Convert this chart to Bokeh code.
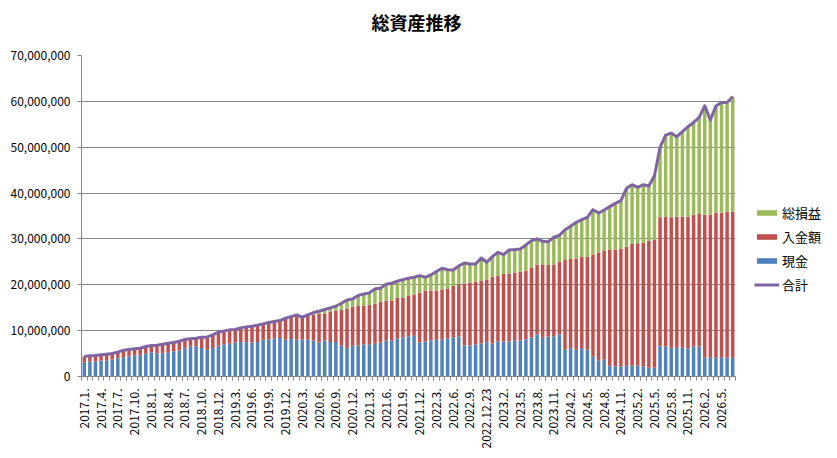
import math
from bokeh.plotting import figure
from bokeh.models import (ColumnDataSource, FixedTicker, NumeralTickFormatter,
                          Legend, LegendItem, Range1d, Label)
from bokeh.embed import file_html
from bokeh.resources import INLINE

# ---- data (values in 万円 = 10,000 yen) ----
chart_title = "総資産推移"

tick_labels = ["2017.1.", "2017.4.", "2017.7.", "2017.10.", "2018.1.", "2018.4.",
               "2018.7.", "2018.10.", "2018.12.", "2019.3.", "2019.6.", "2019.9.",
               "2019.12.", "2020.3.", "2020.6.", "2020.9.", "2020.12.", "2021.3.",
               "2021.6.", "2021.9.", "2021.12.", "2022.3.", "2022.6.", "2022.9.",
               "2022.12.23", "2023.2.", "2023.5.", "2023.8.", "2023.11.", "2024.2.",
               "2024.5.", "2024.8.", "2024.11.", "2025.2.", "2025.5.", "2025.8.",
               "2025.11.", "2026.2.", "2026.5."]

cash = [312, 327, 327, 349, 349, 370, 400, 420, 443, 458,
        458, 494, 530, 508, 508, 530, 552, 566, 617, 660,
        660, 624, 581, 624, 675, 697, 712, 741, 755, 748,
        741, 755, 799, 806, 828, 842, 806, 820, 799, 806,
        799, 784, 741, 784, 755, 755, 675, 625, 668, 675,
        697, 704, 712, 741, 784, 784, 828, 850, 879, 886,
        748, 763, 784, 799, 806, 828, 850, 871, 675, 675,
        697, 719, 748, 719, 763, 763, 763, 784, 784, 806,
        850, 915, 850, 871, 871, 915, 585, 617, 581, 617,
        581, 436, 349, 363, 232, 218, 218, 232, 232, 232,
        218, 189, 189, 654, 654, 625, 625, 625, 610, 654,
        654, 407, 407, 407, 407, 407, 407]

deposit = [124, 123, 131, 123, 138, 131, 130, 154, 145, 145,
           159, 160, 145, 175, 196, 196, 189, 204, 189, 161,
           175, 233, 283, 284, 291, 298, 305, 283, 305, 334,
           356, 363, 348, 370, 370, 378, 464, 487, 544, 486,
           521, 566, 629, 589, 661, 683, 785, 856, 857, 872,
           850, 865, 878, 893, 872, 872, 893, 871, 886, 900,
           1082, 1111, 1090, 1075, 1089, 1089, 1125, 1133, 1351, 1373,
           1373, 1372, 1365, 1460, 1437, 1474, 1481, 1482, 1504, 1503,
           1525, 1525, 1580, 1569, 1569, 1590, 1964, 1954, 1990, 1990,
           2033, 2222, 2353, 2382, 2535, 2549, 2571, 2600, 2658, 2673,
           2701, 2774, 2788, 2817, 2832, 2846, 2861, 2861, 2876, 2875,
           2890, 3122, 3122, 3166, 3166, 3188, 3188]

profit = [0, 0, 0, 0, 0, 0, 0, 0, 0, 0,
          0, 0, 0, 0, 0, 0, 0, 0, 0, 0,
          0, 0, 0, 0, 0, 0, 0, 0, 0, 0,
          0, 0, 0, 0, 0, 0, 0, 0, 0, 0,
          23, 44, 53, 87, 80, 94, 138, 189, 167, 218,
          254, 254, 320, 298, 356, 377, 356, 392, 377, 378,
          370, 290, 341, 414, 465, 411, 349, 407, 450, 407,
          385, 494, 378, 435, 509, 421, 516, 501, 493, 560,
          588, 559, 518, 501, 596, 574, 651, 707, 791, 813,
          857, 980, 864, 886, 937, 1009, 1045, 1271, 1293, 1220,
          1264, 1191, 1402, 1525, 1779, 1838, 1743, 1852, 1961, 2012,
          2106, 2375, 2063, 2324, 2404, 2382, 2512]

UNIT = 10000
n = len(cash)
xs = list(range(n))
c = [v * UNIT for v in cash]
d = [v * UNIT for v in deposit]
g = [v * UNIT for v in profit]
total = [a + b + e for a, b, e in zip(c, d, g)]

src = ColumnDataSource(dict(x=xs, cash=c, deposit=d, profit=g, total=total))

BLUE, RED, GREEN, PURPLE = "#4F81BD", "#C0504D", "#9BBB59", "#8064A2"
GRAY = "#868686"
FONT = "Noto Sans CJK JP"

p = figure(frame_width=654, frame_height=321, output_backend="svg",
           toolbar_location=None,
           x_range=Range1d(-0.5, n - 0.5), y_range=Range1d(0, 70_000_000),
           min_border_left=81, min_border_right=102, min_border_top=55,
           min_border_bottom=82)
p.outline_line_color = None
p.background_fill_color = "white"
p.border_fill_color = "white"

bars = p.vbar_stack(["cash", "deposit", "profit"], x="x", width=0.62,
                    color=[BLUE, RED, GREEN], line_color=None, source=src)
line = p.line("x", "total", source=src, line_width=3, color=PURPLE,
              line_join="round")

# chart title, placed in the top margin above the plot area
p.add_layout(Label(x=335, y=34, x_units="screen", y_units="screen",
                   text=chart_title, text_align="center", text_baseline="middle",
                   text_font=FONT, text_font_size="18px", text_font_style="bold",
                   text_color="black"), "above")

# y axis
ya = p.yaxis[0]
ya.ticker = FixedTicker(ticks=[i * 10_000_000 for i in range(8)])
ya.formatter = NumeralTickFormatter(format="0,0")
ya.major_tick_out = 4
ya.major_tick_in = 0
ya.minor_tick_out = 0
ya.minor_tick_in = 0
ya.axis_line_color = GRAY
ya.major_tick_line_color = GRAY
ya.major_label_standoff = 7
ya.major_label_text_font = FONT
ya.major_label_text_font_size = "12px"
ya.major_label_text_color = "black"

# x axis
xa = p.xaxis[0]
label_pos = list(range(0, n, 3))[:len(tick_labels)]
xa.ticker = FixedTicker(ticks=label_pos, minor_ticks=[i - 0.5 for i in range(n + 1)])
xa.major_label_overrides = {pos: lab for pos, lab in zip(label_pos, tick_labels)}
xa.major_tick_out = 0
xa.major_tick_in = 0
xa.minor_tick_out = 4
xa.minor_tick_in = 0
xa.minor_tick_line_color = GRAY
xa.axis_line_color = GRAY
xa.major_label_orientation = math.pi / 2
xa.major_label_standoff = 8
xa.major_label_text_font = FONT
xa.major_label_text_font_size = "12px"
xa.major_label_text_color = "black"

p.xgrid.grid_line_color = None
p.ygrid.grid_line_color = GRAY
p.ygrid.grid_line_width = 1

legend = Legend(items=[LegendItem(label="総損益", renderers=[bars[2]]),
                       LegendItem(label="入金額", renderers=[bars[1]]),
                       LegendItem(label="現金", renderers=[bars[0]]),
                       LegendItem(label="合計", renderers=[line])],
                location=(19, 82), orientation="vertical",
                glyph_width=25, glyph_height=7, label_height=20, spacing=4,
                padding=0, margin=0, label_standoff=3,
                border_line_color=None, background_fill_alpha=0,
                label_text_font=FONT, label_text_font_size="13px",
                label_text_color="black")
p.add_layout(legend, "right")

open("out.html", "w").write(file_html(p, INLINE))
